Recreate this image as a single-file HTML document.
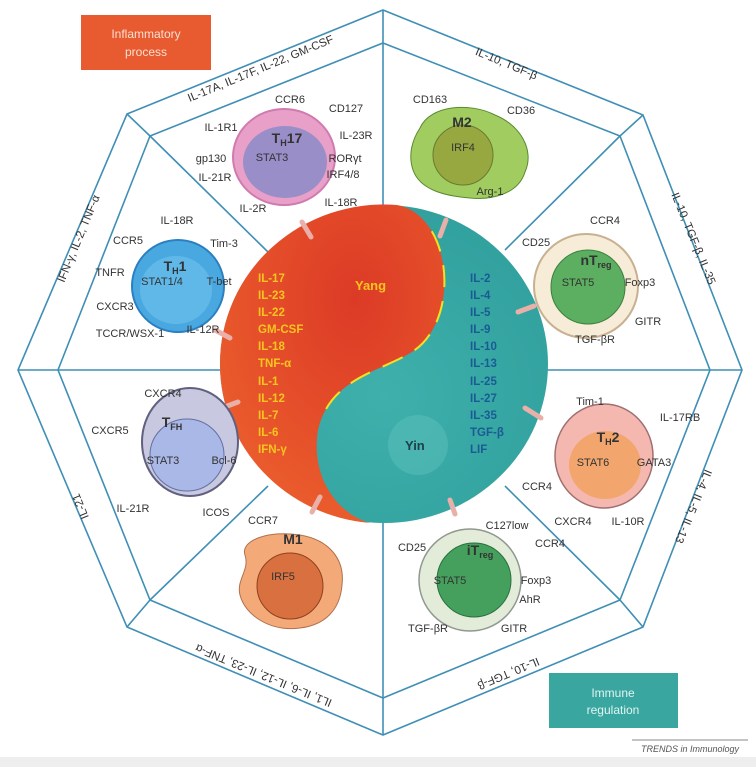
<!DOCTYPE html>
<html><head><meta charset="utf-8"><style>
html,body{margin:0;padding:0;background:#fff;}
svg{display:block;font-family:"Liberation Sans",sans-serif;}
.l{font-size:11px;fill:#333;text-anchor:middle;}
.y{font-size:11.5px;fill:#f7c520;font-weight:bold;}
.b{font-size:11.5px;fill:#1a5b94;font-weight:bold;}
.s{font-size:14px;fill:#333;text-anchor:middle;}
</style></head><body>
<svg width="756" height="767" viewBox="0 0 756 767" xmlns="http://www.w3.org/2000/svg">
<defs>
<radialGradient id="gr" cx="0.6" cy="0.3" r="0.7"><stop offset="0" stop-color="#dc3a26"/><stop offset="1" stop-color="#ea5c2c"/></radialGradient>
<radialGradient id="gt" cx="0.5" cy="0.6" r="0.7"><stop offset="0" stop-color="#3fb0ac"/><stop offset="1" stop-color="#2f9e9c"/></radialGradient>
</defs>
<rect x="0" y="757" width="756" height="10" fill="#eeeeee"/>
<g fill="none" stroke="#3f8fb5" stroke-width="1.6">
<polygon points="383,10 643,115 742,370 643,627 383,735 127,627 18,370 127,114"/>
<polygon points="383,43 620,136 710,370 620,600 383,698 150,600 58,370 150,136"/>
<line x1="383" y1="10" x2="383" y2="43"/><line x1="643" y1="115" x2="620" y2="136"/>
<line x1="742" y1="370" x2="710" y2="370"/><line x1="643" y1="627" x2="620" y2="600"/>
<line x1="383" y1="735" x2="383" y2="698"/><line x1="127" y1="627" x2="150" y2="600"/>
<line x1="18" y1="370" x2="58" y2="370"/><line x1="127" y1="114" x2="150" y2="136"/>
<line x1="383" y1="43" x2="383" y2="210"/><line x1="383" y1="698" x2="383" y2="520"/>
<line x1="58" y1="370" x2="225" y2="370"/><line x1="710" y1="370" x2="545" y2="370"/>
<line x1="150" y1="136" x2="268" y2="252"/><line x1="620" y1="136" x2="505" y2="250"/>
<line x1="150" y1="600" x2="268" y2="486"/><line x1="620" y1="600" x2="505" y2="486"/>
</g>
<ellipse cx="384" cy="364" rx="164" ry="159" fill="url(#gt)"/>
<path d="M397,205 C452,215 462,320 412,352 C380,372 330,378 318,430 C310,480 340,515 370,523 A164,159 0 0,1 220,364 A164,159 0 0,1 397,205 Z" fill="url(#gr)"/>
<path d="M397,205 C452,215 462,320 412,352 C380,372 330,378 318,430 C310,480 340,515 370,523" stroke="#f5e020" stroke-width="2" fill="none" stroke-dasharray="0 45 22 14 22 14 22 14 22 14 22 14 22 14 22 200"/>
<circle cx="418" cy="445" r="30" fill="#5cc0bc" opacity="0.5"/>
<text x="355" y="290" class="y" style="font-size:13px">Yang</text>
<text x="405" y="450" style="font-size:13px;font-weight:bold;fill:#1e3e48">Yin</text>
<g class="y">
<text x="258" y="282">IL-17</text><text x="258" y="299">IL-23</text><text x="258" y="316">IL-22</text><text x="258" y="333">GM-CSF</text><text x="258" y="350">IL-18</text><text x="258" y="367">TNF-α</text><text x="258" y="385">IL-1</text><text x="258" y="402">IL-12</text><text x="258" y="419">IL-7</text><text x="258" y="436">IL-6</text><text x="258" y="453">IFN-γ</text>
</g>
<g class="b">
<text x="470" y="282">IL-2</text><text x="470" y="299">IL-4</text><text x="470" y="316">IL-5</text><text x="470" y="333">IL-9</text><text x="470" y="350">IL-10</text><text x="470" y="367">IL-13</text><text x="470" y="385">IL-25</text><text x="470" y="402">IL-27</text><text x="470" y="419">IL-35</text><text x="470" y="436">TGF-β</text><text x="470" y="453">LIF</text>
</g>
<g stroke="#e8b0a8" stroke-width="5" stroke-linecap="round">
<line x1="302" y1="222" x2="311" y2="237"/><line x1="446" y1="220" x2="440" y2="236"/>
<line x1="215" y1="330" x2="230" y2="338"/><line x1="518" y1="312" x2="534" y2="306"/>
<line x1="222" y1="408" x2="238" y2="402"/><line x1="525" y1="408" x2="541" y2="418"/>
<line x1="312" y1="512" x2="320" y2="497"/><line x1="450" y1="500" x2="455" y2="514"/>
</g>
<ellipse cx="284" cy="157" rx="51" ry="48" fill="#e8a0c8" stroke="#d07ab0" stroke-width="2"/>
<ellipse cx="285" cy="162" rx="42" ry="36" fill="#9a8ec8"/>
<text x="287" y="143" class="s" style="font-weight:bold">T<tspan font-size="9" dy="3">H</tspan><tspan dy="-3">17</tspan></text>
<text x="272" y="161" class="l">STAT3</text><text x="345" y="162" class="l">RORγt</text><text x="343" y="178" class="l">IRF4/8</text>
<text x="290" y="103" class="l">CCR6</text><text x="346" y="112" class="l">CD127</text><text x="221" y="131" class="l">IL-1R1</text><text x="356" y="139" class="l">IL-23R</text>
<text x="211" y="162" class="l">gp130</text><text x="215" y="181" class="l">IL-21R</text><text x="253" y="212" class="l">IL-2R</text><text x="341" y="206" class="l">IL-18R</text>
<path d="M420,128 C430,105 470,102 495,115 C520,125 535,150 525,172 C518,195 490,200 470,198 C445,196 420,190 413,170 C408,155 412,140 420,128 Z" fill="#a0cc60" stroke="#5a8a30"/>
<ellipse cx="463" cy="155" rx="30" ry="30" fill="#98a840" stroke="#6a7a30"/>
<text x="462" y="127" class="s" style="font-weight:bold">M2</text><text x="463" y="151" class="l">IRF4</text>
<text x="430" y="103" class="l">CD163</text><text x="521" y="114" class="l">CD36</text><text x="490" y="195" class="l">Arg-1</text>
<ellipse cx="178" cy="286" rx="46" ry="46" fill="#4aa8e0" stroke="#2a80c0" stroke-width="2"/>
<ellipse cx="176" cy="290" rx="36" ry="34" fill="#60b8e8"/>
<text x="175" y="271" class="s" style="font-weight:bold">T<tspan font-size="9" dy="3">H</tspan><tspan dy="-3">1</tspan></text>
<text x="162" y="285" class="l">STAT1/4</text><text x="219" y="285" class="l">T-bet</text>
<text x="177" y="224" class="l">IL-18R</text><text x="128" y="244" class="l">CCR5</text><text x="224" y="247" class="l">Tim-3</text><text x="110" y="276" class="l">TNFR</text>
<text x="115" y="310" class="l">CXCR3</text><text x="130" y="337" class="l">TCCR/WSX-1</text><text x="203" y="333" class="l">IL-12R</text>
<ellipse cx="586" cy="286" rx="52" ry="52" fill="#f6ecd8" stroke="#c8b090" stroke-width="2"/>
<ellipse cx="588" cy="287" rx="37" ry="37" fill="#5cae60" stroke="#3a8040"/>
<text x="596" y="265" class="s" style="font-weight:bold">nT<tspan font-size="9" dy="3">reg</tspan></text>
<text x="578" y="286" class="l">STAT5</text><text x="640" y="286" class="l">Foxp3</text>
<text x="605" y="224" class="l">CCR4</text><text x="536" y="246" class="l">CD25</text><text x="648" y="325" class="l">GITR</text><text x="595" y="343" class="l">TGF-βR</text>
<ellipse cx="190" cy="442" rx="48" ry="54" fill="#c8c8e0" stroke="#606080" stroke-width="2"/>
<ellipse cx="187" cy="455" rx="37" ry="36" fill="#aab8e8" stroke="#6070a0"/>
<text x="172" y="427" class="s" style="font-weight:bold">T<tspan font-size="9" dy="3">FH</tspan></text>
<text x="163" y="464" class="l">STAT3</text><text x="224" y="464" class="l">Bcl-6</text>
<text x="163" y="397" class="l">CXCR4</text><text x="110" y="434" class="l">CXCR5</text><text x="133" y="512" class="l">IL-21R</text><text x="216" y="516" class="l">ICOS</text>
<ellipse cx="604" cy="456" rx="49" ry="52" fill="#f4b8b0" stroke="#a07070" stroke-width="1.5"/>
<ellipse cx="605" cy="465" rx="36" ry="34" fill="#f2a66e"/>
<text x="608" y="442" class="s" style="font-weight:bold">T<tspan font-size="9" dy="3">H</tspan><tspan dy="-3">2</tspan></text>
<text x="593" y="466" class="l">STAT6</text><text x="654" y="466" class="l">GATA3</text>
<text x="590" y="405" class="l">Tim-1</text><text x="680" y="421" class="l">IL-17RB</text><text x="537" y="490" class="l">CCR4</text>
<text x="573" y="525" class="l">CXCR4</text><text x="628" y="525" class="l">IL-10R</text>
<path d="M245,555 C240,540 270,530 300,535 C330,540 345,560 342,585 C340,610 325,625 300,628 C270,632 245,615 240,595 C236,580 250,570 245,555 Z" fill="#f4aa78" stroke="#b07050"/>
<ellipse cx="290" cy="586" rx="33" ry="33" fill="#d87040" stroke="#904020"/>
<text x="293" y="544" class="s" style="font-weight:bold">M1</text><text x="283" y="580" class="l">IRF5</text>
<text x="263" y="524" class="l">CCR7</text>
<ellipse cx="470" cy="580" rx="51" ry="51" fill="#e2ecd8" stroke="#909890" stroke-width="1.5"/>
<ellipse cx="474" cy="580" rx="37" ry="37" fill="#44a05c" stroke="#2a7040"/>
<text x="480" y="555" class="s" style="font-weight:bold">iT<tspan font-size="9" dy="3">reg</tspan></text>
<text x="450" y="584" class="l">STAT5</text><text x="536" y="584" class="l">Foxp3</text><text x="530" y="603" class="l">AhR</text>
<text x="507" y="529" class="l">C127low</text><text x="412" y="551" class="l">CD25</text><text x="550" y="547" class="l">CCR4</text>
<text x="428" y="632" class="l">TGF-βR</text><text x="514" y="632" class="l">GITR</text>
<g class="l" style="font-size:11.5px">
<text transform="translate(262,72) rotate(-22.5)">IL-17A, IL-17F, IL-22, GM-CSF</text>
<text transform="translate(505,67) rotate(22.5)">IL-10, TGF-β</text>
<text transform="translate(690,240) rotate(67.5)">IL-10, TGF-β, IL-35</text>
<text transform="translate(690,505) rotate(112.5)">IL-4, IL-5, IL-13</text>
<text transform="translate(507,670) rotate(157.5)">IL-10, TGF-β</text>
<text transform="translate(265,672) rotate(-157.5)">IL1, IL-6, IL-12, IL-23, TNF-α</text>
<text transform="translate(84,505) rotate(-112.5)">IL-21</text>
<text transform="translate(82,240) rotate(-67.5)">IFN-γ, IL-2, TNF-α</text>
</g>
<rect x="81" y="15" width="130" height="55" fill="#e85a30"/>
<text x="146" y="38" text-anchor="middle" style="font-size:12px;fill:#fbe0d0">Inflammatory</text>
<text x="146" y="56" text-anchor="middle" style="font-size:12px;fill:#fbe0d0">process</text>
<rect x="549" y="673" width="129" height="55" fill="#3aa6a0"/>
<text x="613" y="697" text-anchor="middle" style="font-size:12px;fill:#e0f4f2">Immune</text>
<text x="613" y="714" text-anchor="middle" style="font-size:12px;fill:#e0f4f2">regulation</text>
<line x1="632" y1="740" x2="748" y2="740" stroke="#888"/>
<text x="690" y="752" text-anchor="middle" style="font-size:9px;font-style:italic;fill:#555">TRENDS in Immunology</text>
</svg>
</body></html>
